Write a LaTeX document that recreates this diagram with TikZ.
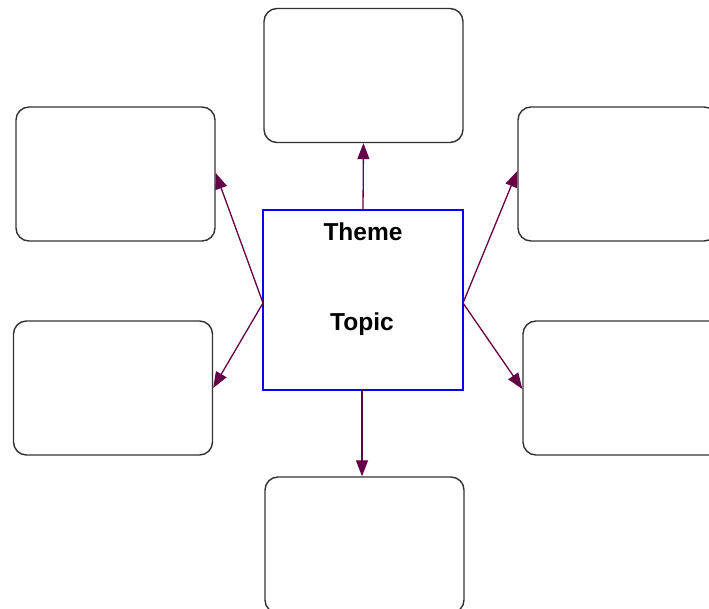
\documentclass[tikz,border=0pt]{standalone}
\usepackage{fontspec}
\setmainfont{Liberation Sans}
\usetikzlibrary{arrows.meta}
\definecolor{arrowc}{RGB}{100,0,70}
\definecolor{boxc}{RGB}{50,50,50}
\tikzset{
  leaf/.style={draw=boxc, line width=1.4bp, rounded corners=13bp, minimum width=199bp, minimum height=134bp, inner sep=0pt},
  hub/.style={draw=blue, line width=1.2bp, minimum width=200bp, minimum height=180bp, inner sep=0pt},
  link/.style={draw=arrowc, line width=1.3bp, -{Triangle[length=16bp,width=12bp]}},
  lbl/.style={font=\fontsize{24.5bp}{28bp}\selectfont\bfseries, anchor=base, inner sep=0pt}
}
\begin{document}
\begin{tikzpicture}[x=1bp,y=-1bp]
\useasboundingbox (0,0) rectangle (709,609);
\clip (0,0) rectangle (709,609);
\node[hub] (c) at (363,300) {};
\node[leaf] (top) at (363.5,75.5) {};
\node[leaf] (tl) at (115.5,174) {};
\node[leaf] (bl) at (113,388) {};
\node[leaf] (tr) at (617.5,174) {};
\node[leaf] (br) at (622.5,388) {};
\node[leaf, minimum height=136bp] (bot) at (364.5,545) {};
\node[lbl] (theme) at (363,240) {Theme};
\node[lbl] (topic) at (362,330) {Topic};
\coordinate (cw) at (263,303);
\coordinate (ce) at (463,303);
\coordinate (cs) at (362,390);
\draw[link] (c.north) -- (top.south);
\draw[link] (cs) -- (cs |- bot.north);
\draw[link] (cw) -- ([yshift=1bp]tl.east);
\draw[link] (cw) -- (bl.east);
\draw[link] (ce) -- ([yshift=3bp]tr.west);
\draw[link] (ce) -- ([yshift=-1bp]br.west);
\end{tikzpicture}
\end{document}
